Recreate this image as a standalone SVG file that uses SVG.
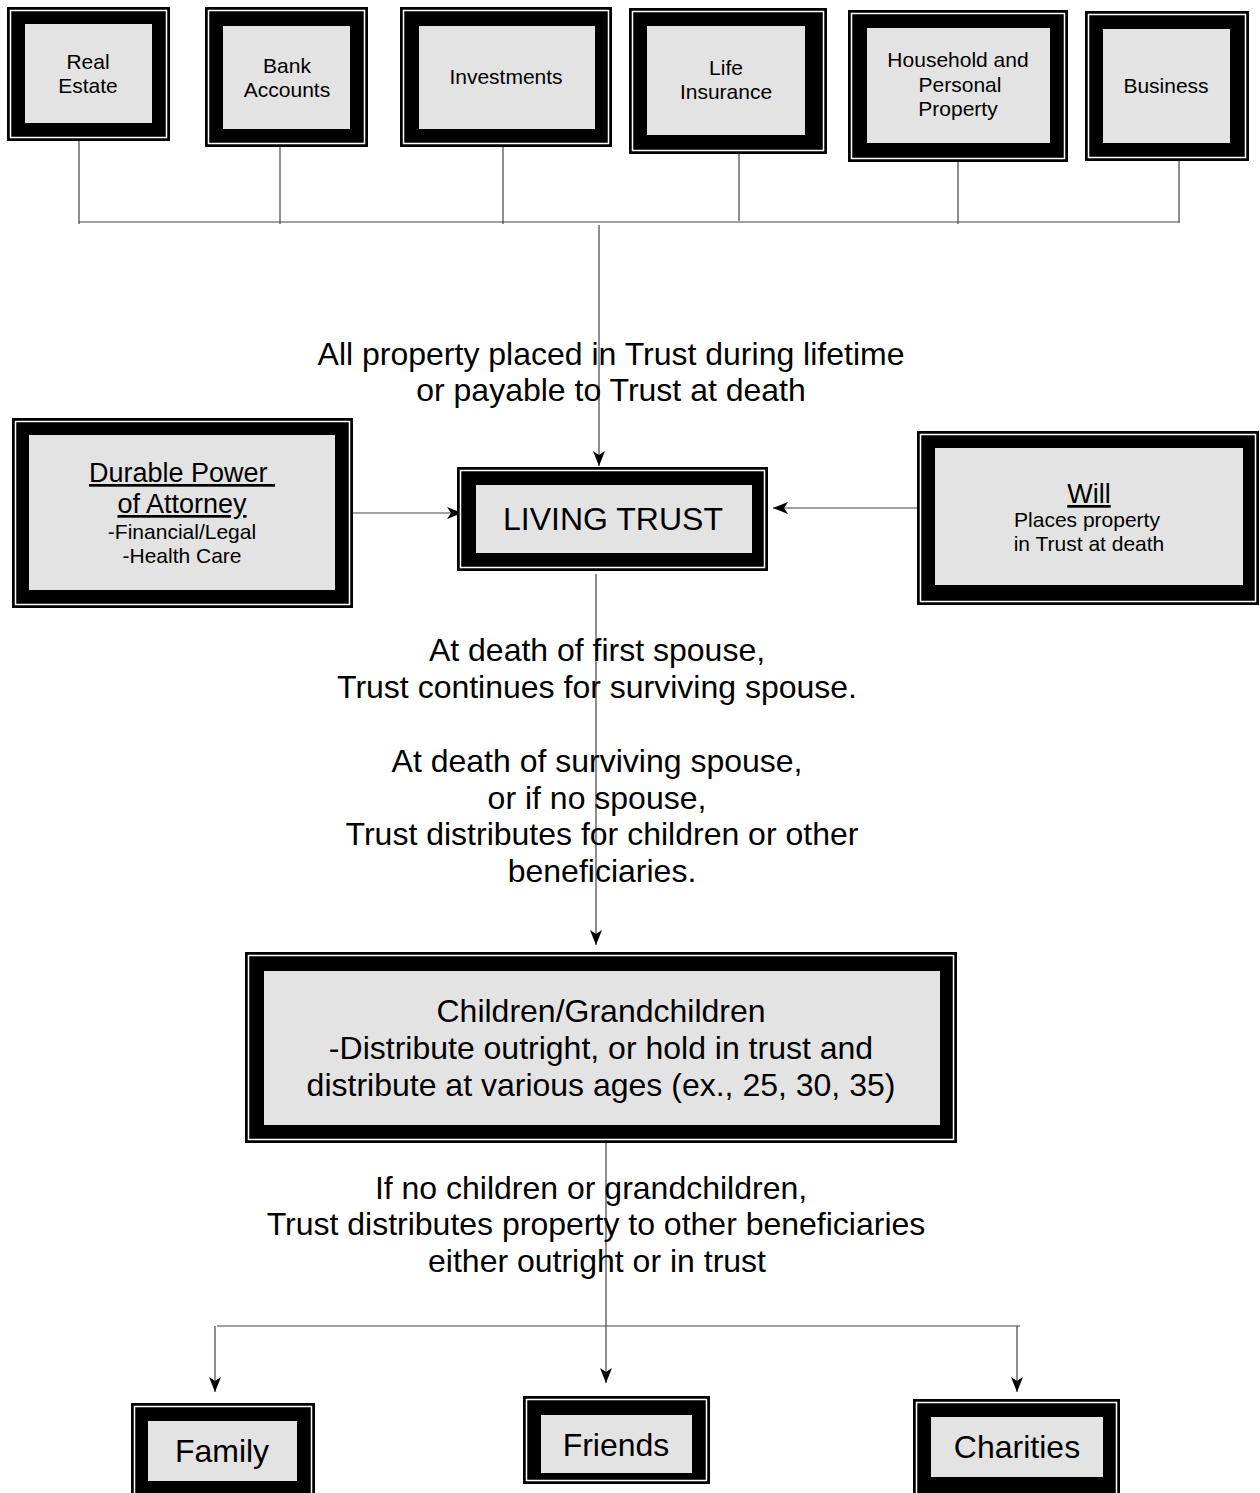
<svg xmlns="http://www.w3.org/2000/svg" width="1260" height="1493" viewBox="0 0 1260 1493">
<style>
.o{fill:#000}
.w{fill:none;stroke:#fff;stroke-width:1.5}
.g{fill:#e3e3e3}
text{font-family:"Liberation Sans",Arial,sans-serif;fill:#000;text-anchor:middle}
.s{font-size:21px}
.m{font-size:27px}
.l{font-size:32px}
.xl{font-size:32px}
.c line,.c path{stroke:#444;stroke-width:1.2;fill:none}
</style>
<defs>
<marker id="ah" markerWidth="16" markerHeight="14" refX="15" refY="6" orient="auto" markerUnits="userSpaceOnUse">
<path d="M0,0 L15,6 L0,12 L4,6 Z" fill="#000"/>
</marker>
</defs>
<rect width="1260" height="1493" fill="#fff"/>

<g id="connectors" class="c">
<line x1="79" y1="141" x2="79" y2="224"/>
<line x1="280" y1="147" x2="280" y2="224"/>
<line x1="503" y1="147" x2="503" y2="224"/>
<line x1="739" y1="154" x2="739" y2="221"/>
<line x1="958" y1="162" x2="958" y2="224"/>
<line x1="1179" y1="155" x2="1179" y2="222"/>
<line x1="79" y1="222" x2="1180" y2="222"/>
<line x1="599" y1="225" x2="599" y2="466" marker-end="url(#ah)"/>
<line x1="352" y1="513" x2="462" y2="513" marker-end="url(#ah)"/>
<line x1="917" y1="508" x2="773" y2="508" marker-end="url(#ah)"/>
<line x1="596" y1="574" x2="596" y2="945" marker-end="url(#ah)"/>
<line x1="606" y1="1143" x2="606" y2="1383" marker-end="url(#ah)"/>
<line x1="217" y1="1326" x2="1020" y2="1326"/>
<line x1="215" y1="1326" x2="215" y2="1392" marker-end="url(#ah)"/>
<line x1="1017" y1="1326" x2="1017" y2="1392" marker-end="url(#ah)"/>
</g>

<g id="n-realestate">
<rect class="o" x="7" y="7" width="163" height="134"/>
<rect class="w" x="10.5" y="10.5" width="156" height="127"/>
<rect class="g" x="25" y="24" width="127" height="99"/>
<text class="s" x="88" y="69">Real</text>
<text class="s" x="88" y="93">Estate</text>
</g>
<g id="n-bank">
<rect class="o" x="205" y="7" width="163" height="140"/>
<rect class="w" x="208.5" y="10.5" width="156" height="133"/>
<rect class="g" x="223" y="26" width="127" height="103"/>
<text class="s" x="287" y="73">Bank</text>
<text class="s" x="287" y="97">Accounts</text>
</g>
<g id="n-investments">
<rect class="o" x="400" y="7" width="212" height="140"/>
<rect class="w" x="403.5" y="10.5" width="205" height="133"/>
<rect class="g" x="419" y="26" width="176" height="103"/>
<text class="s" x="506" y="84">Investments</text>
</g>
<g id="n-life">
<rect class="o" x="629" y="8" width="198" height="146"/>
<rect class="w" x="632.5" y="11.5" width="191" height="139"/>
<rect class="g" x="647" y="26" width="158" height="109"/>
<text class="s" x="726" y="75">Life</text>
<text class="s" x="726" y="99">Insurance</text>
</g>
<g id="n-household">
<rect class="o" x="848" y="10" width="220" height="152"/>
<rect class="w" x="851.5" y="13.5" width="213" height="145"/>
<rect class="g" x="867" y="28" width="183" height="115"/>
<text class="s" x="958" y="67">Household and</text>
<text class="s" x="960" y="92">Personal</text>
<text class="s" x="958" y="116">Property</text>
</g>
<g id="n-business">
<rect class="o" x="1085" y="11" width="164" height="150"/>
<rect class="w" x="1088.5" y="14.5" width="157" height="143"/>
<rect class="g" x="1103" y="29" width="127" height="114"/>
<text class="s" x="1166" y="93">Business</text>
</g>

<g id="label-property">
<text class="l" x="611" y="365">All property placed in Trust during lifetime</text>
<text class="l" x="611" y="401">or payable to Trust at death</text>
</g>

<g id="n-poa">
<rect class="o" x="12" y="418" width="341" height="190"/>
<rect class="w" x="15.5" y="421.5" width="334" height="183"/>
<rect class="g" x="29" y="435" width="306" height="155"/>
<text class="m" x="182" y="482" text-decoration="underline" xml:space="preserve">Durable Power </text>
<text class="m" x="182" y="513" text-decoration="underline">of Attorney</text>
<text class="s" x="182" y="539">-Financial/Legal</text>
<text class="s" x="182" y="563">-Health Care</text>
</g>

<g id="n-livingtrust">
<rect class="o" x="457" y="467" width="311" height="104"/>
<rect class="w" x="460.5" y="470.5" width="304" height="97"/>
<rect class="g" x="476" y="485" width="276" height="68"/>
<text class="xl" x="613" y="530">LIVING TRUST</text>
</g>

<g id="n-will">
<rect class="o" x="917" y="431" width="342" height="174"/>
<rect class="w" x="920.5" y="434.5" width="335" height="167"/>
<rect class="g" x="935" y="448" width="308" height="137"/>
<text class="m" x="1089" y="503" text-decoration="underline">Will</text>
<text class="s" x="1087" y="527">Places property</text>
<text class="s" x="1089" y="551">in Trust at death</text>
</g>

<g id="label-death">
<text class="l" x="597" y="661">At death of first spouse,</text>
<text class="l" x="597" y="698">Trust continues for surviving spouse.</text>
<text class="l" x="597" y="772">At death of surviving spouse,</text>
<text class="l" x="597" y="809">or if no spouse,</text>
<text class="l" x="602" y="845">Trust distributes for children or other</text>
<text class="l" x="602" y="882">beneficiaries.</text>
</g>

<g id="n-children">
<rect class="o" x="245" y="952" width="712" height="191"/>
<rect class="w" x="248.5" y="955.5" width="705" height="184"/>
<rect class="g" x="264" y="971" width="676" height="154"/>
<text class="l" x="601" y="1022">Children/Grandchildren</text>
<text class="l" x="601" y="1059">-Distribute outright, or hold in trust and</text>
<text class="l" x="601" y="1096">distribute at various ages (ex., 25, 30, 35)</text>
</g>

<g id="label-nochildren">
<text class="l" x="591" y="1199">If no children or grandchildren,</text>
<text class="l" x="596" y="1235">Trust distributes property to other beneficiaries</text>
<text class="l" x="597" y="1272">either outright or in trust</text>
</g>

<g id="n-family">
<rect class="o" x="131" y="1403" width="184" height="100"/>
<rect class="w" x="134.5" y="1406.5" width="177" height="100"/>
<rect class="g" x="148" y="1421" width="149" height="60"/>
<text class="xl" x="222" y="1462">Family</text>
</g>
<g id="n-friends">
<rect class="o" x="523" y="1396" width="187" height="88"/>
<rect class="w" x="526.5" y="1399.5" width="180" height="81"/>
<rect class="g" x="541" y="1415" width="151" height="58"/>
<text class="xl" x="616" y="1456">Friends</text>
</g>
<g id="n-charities">
<rect class="o" x="913" y="1399" width="207" height="100"/>
<rect class="w" x="916.5" y="1402.5" width="200" height="100"/>
<rect class="g" x="931" y="1417" width="172" height="60"/>
<text class="xl" x="1017" y="1458">Charities</text>
</g>
</svg>
